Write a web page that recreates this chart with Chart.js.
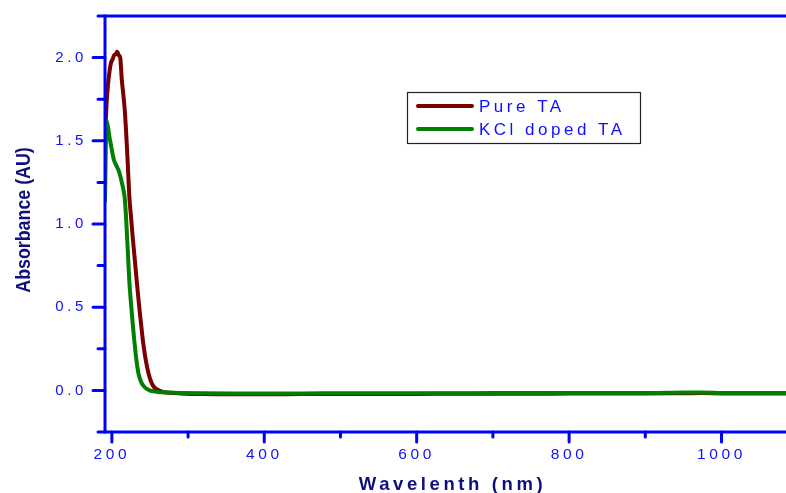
<!DOCTYPE html>
<html>
<head>
<meta charset="utf-8">
<script src="https://cdn.jsdelivr.net/npm/chart.js@4.4.1/dist/chart.umd.min.js"></script>
<style>
  html, body { margin: 0; padding: 0; background: #fff; overflow: hidden; }
  canvas { display: block; }
</style>
</head>
<body>
<canvas id="uvChart" width="800" height="493"></canvas>
<script>
// UV-Vis absorbance spectra
const wavelength = [191, 192, 193, 195, 197, 199, 201, 203, 205, 207, 209, 211, 213, 215, 217, 219,
  221, 223, 225, 227, 229, 231, 233, 235, 237, 239, 241, 243, 245, 248, 251, 255, 260, 266, 275, 290,
  320, 360, 400, 450, 500, 550, 600, 650, 700, 750, 800, 850, 900, 950, 975, 1000, 1050, 1100];

const pureTA = [1.50, 1.62, 1.72, 1.84, 1.92, 1.97, 1.99, 2.015, 2.02, 2.035, 2.015, 2.00, 1.87, 1.78,
  1.68, 1.53, 1.35, 1.16, 1.05, 0.94, 0.84, 0.74, 0.64, 0.545, 0.455, 0.37, 0.29, 0.225, 0.17, 0.105,
  0.058, 0.022, 0.004, -0.008, -0.014, -0.018,
  -0.022, -0.023, -0.023, -0.022, -0.022, -0.021, -0.021, -0.020, -0.020, -0.020, -0.019, -0.019,
  -0.019, -0.017, -0.016, -0.018, -0.019, -0.019];

const kclDopedTA = [1.14, 1.45, 1.62, 1.58, 1.52, 1.47, 1.42, 1.38, 1.36, 1.34, 1.32, 1.29, 1.25, 1.21,
  1.15, 1.01, 0.83, 0.65, 0.53, 0.42, 0.32, 0.23, 0.155, 0.10, 0.068, 0.045, 0.03, 0.02, 0.012, 0.004,
  -0.002, -0.006, -0.009, -0.011, -0.013, -0.015,
  -0.017, -0.018, -0.018, -0.018, -0.017, -0.017, -0.017, -0.017, -0.016, -0.016, -0.016, -0.016,
  -0.016, -0.013, -0.012, -0.015, -0.016, -0.016];

const seriesLabels = ['Pure TA', 'KCl doped TA'];
const seriesColors = ['#7b0000', '#008000'];

const xMajorTicks = [200, 400, 600, 800, 1000];
const yMajorTicks = [0, 0.5, 1.0, 1.5, 2.0];

const xTitle = 'Wavelenth (nm)';
const yTitle = 'Absorbance (AU)';

const axisBlue = '#0000ff';
const labelBlue = '#1010ff';
const titleNavy = '#10107c';
const sans = '"Liberation Sans", Arial, sans-serif';

const isMajor = (list, v) => list.some(m => Math.abs(m - v) < 1e-6);
const toPoints = values => values.map((v, i) => ({ x: wavelength[i], y: v }));

// letter-spaced text for tick labels and the x title
const spacing = {
  id: 'spacing',
  beforeDraw(chart) {
    chart.ctx.letterSpacing = '3.6px';
  }
};

// blue frame (left/top/bottom) with major and minor ticks
const axisFrame = {
  id: 'axisFrame',
  afterDatasetsDraw(chart) {
    const { ctx, chartArea: a, scales: { x, y } } = chart;
    ctx.save();
    ctx.strokeStyle = axisBlue;
    ctx.lineWidth = 3;
    ctx.lineCap = 'round';
    ctx.beginPath();
    y.ticks.forEach(t => {
      const py = y.getPixelForValue(t.value);
      const len = isMajor(yMajorTicks, t.value) ? 12 : 7;
      ctx.moveTo(a.left - len, py);
      ctx.lineTo(a.left, py);
    });
    x.ticks.forEach(t => {
      const px = x.getPixelForValue(t.value);
      const len = isMajor(xMajorTicks, t.value) ? 10 : 5;
      ctx.moveTo(px, a.bottom);
      ctx.lineTo(px, a.bottom + len);
    });
    ctx.stroke();

    ctx.lineCap = 'butt';
    ctx.beginPath();
    ctx.moveTo(a.right, a.top);
    ctx.lineTo(a.left, a.top);
    ctx.lineTo(a.left, a.bottom);
    ctx.lineTo(a.right, a.bottom);
    ctx.stroke();
    ctx.restore();
  }
};

// boxed legend inside the plot and the condensed, rotated y title
const overlay = {
  id: 'overlay',
  afterDraw(chart) {
    const { ctx } = chart;
    ctx.save();
    ctx.letterSpacing = '0px';
    ctx.fillStyle = titleNavy;
    ctx.font = 'bold 20px ' + sans;
    ctx.textAlign = 'center';
    ctx.textBaseline = 'alphabetic';
    ctx.translate(30, 220);
    ctx.rotate(-Math.PI / 2);
    ctx.scale(0.89, 1);
    ctx.fillText(yTitle, 0, 0);
    ctx.restore();

    ctx.save();
    ctx.strokeStyle = '#222';
    ctx.lineWidth = 1.2;
    ctx.strokeRect(407.5, 92.5, 233, 51);
    ctx.font = '17px ' + sans;
    ctx.letterSpacing = '3.5px';
    ctx.textBaseline = 'middle';
    ctx.textAlign = 'left';
    chart.data.datasets.forEach((ds, i) => {
      const ly = 106 + i * 23;
      ctx.strokeStyle = ds.borderColor;
      ctx.lineWidth = 4;
      ctx.lineCap = 'round';
      ctx.beginPath();
      ctx.moveTo(418, ly);
      ctx.lineTo(472, ly);
      ctx.stroke();
      ctx.fillStyle = labelBlue;
      ctx.fillText(ds.label, 479, ly + 1);
    });
    ctx.restore();
  }
};

new Chart(document.getElementById('uvChart'), {
  type: 'line',
  data: {
    datasets: [
      { label: seriesLabels[0], data: toPoints(pureTA), borderColor: seriesColors[0], order: 1 },
      { label: seriesLabels[1], data: toPoints(kclDopedTA), borderColor: seriesColors[1], order: 0 }
    ]
  },
  options: {
    responsive: false,
    animation: false,
    events: [],
    layout: { padding: { top: 16, right: 0, bottom: 0, left: 0 } },
    elements: {
      point: { radius: 0 },
      line: {
        borderWidth: 4,
        cubicInterpolationMode: 'monotone',
        borderJoinStyle: 'round',
        borderCapStyle: 'round',
        fill: false
      }
    },
    plugins: { legend: { display: false }, tooltip: { enabled: false } },
    scales: {
      x: {
        type: 'linear',
        min: 191,
        max: 1103,
        afterFit: s => {
          s.height = 61;
          s.paddingLeft = 0;
          s.paddingRight = 0;
        },
        grid: { display: false, drawTicks: false },
        border: { display: false },
        ticks: {
          stepSize: 100,
          autoSkip: false,
          maxRotation: 0,
          includeBounds: false,
          padding: 13,
          color: labelBlue,
          font: { family: sans, size: 15.5 },
          callback: v => isMajor(xMajorTicks, v) ? String(v) : ''
        },
        title: {
          display: true,
          text: xTitle,
          color: titleNavy,
          font: { family: sans, size: 18.5, weight: 'bold', lineHeight: 0.9 },
          padding: 0
        }
      },
      y: {
        min: -0.25,
        max: 2.25,
        afterFit: s => {
          s.width = 105;
          s.paddingTop = 0;
          s.paddingBottom = 0;
        },
        grid: { display: false, drawTicks: false },
        border: { display: false },
        ticks: {
          stepSize: 0.25,
          autoSkip: false,
          includeBounds: false,
          padding: 18,
          color: labelBlue,
          font: { family: sans, size: 15 },
          callback: v => isMajor(yMajorTicks, v) ? v.toFixed(1) : ''
        }
      }
    }
  },
  plugins: [spacing, axisFrame, overlay]
});
</script>
</body>
</html>
